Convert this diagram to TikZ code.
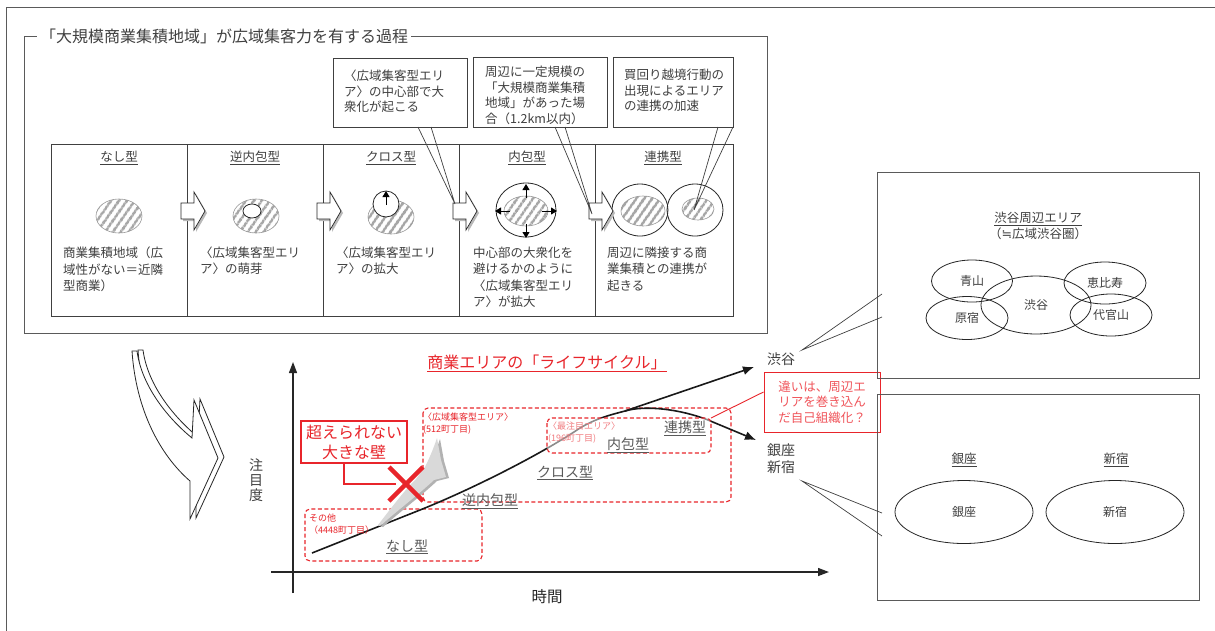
\documentclass[tikz,border=0pt]{standalone}
\usepackage{fontspec}
\setmainfont{Noto Sans CJK JP}
\newfontfamily\djv{DejaVu Sans}
\usetikzlibrary{arrows.meta,patterns.meta,shapes.geometric,calc}
\definecolor{tgray}{HTML}{404040}
\definecolor{lgray}{HTML}{595959}
\definecolor{fgray}{HTML}{5A5A5A}
\definecolor{myred}{HTML}{E8252B}
\definecolor{pinkred}{HTML}{F0545A}
\begin{document}
\begin{tikzpicture}[x=1pt,y=-1pt,
  frame/.style={draw=fgray,line width=0.9pt},
  boxline/.style={draw=tgray,line width=0.8pt},
  callout/.style={draw=tgray,line width=0.7pt},
  txt/.style={text=tgray,inner sep=0pt,align=left,font=\fontsize{12.5}{16.2}\selectfont},
  ctxt/.style={text=tgray,inner sep=0pt,align=left,font=\fontsize{12.5}{15.6}\selectfont},
  ttl/.style={text=tgray,inner sep=0pt,font=\fontsize{12.5}{15}\selectfont},
  hatch/.style={draw=gray!80,line width=0.6pt,pattern={Lines[angle=55,distance=6.5pt,line width=3pt]},pattern color=gray!70},
  wellipse/.style={draw=black!85,line width=0.8pt,fill=white},
  oellipse/.style={draw=black!85,line width=0.8pt},
  smallarrow/.style={draw=black,line width=0.9pt,-{Triangle[length=6pt,width=7pt]}},
  reddash/.style={draw=myred,line width=1.1pt,dash pattern=on 4pt off 2.5pt,rounded corners=5pt},
  redline/.style={draw=myred,line width=1.1pt},
  smallred/.style={text=myred,inner sep=0pt,align=left,font=\fontsize{9}{12}\selectfont},
  stagelbl/.style={text=lgray,inner sep=0pt,font=\fontsize{14}{16}\selectfont},
  curve/.style={draw=black!90,line width=1.6pt},
  axis/.style={draw=black!85,line width=1.3pt,-{Triangle[length=11pt,width=8pt]}},
  lbl/.style={text=tgray,inner sep=0pt,font=\fontsize{14}{17}\selectfont,align=left},
  area/.style={ellipse,draw=black!85,line width=0.8pt,inner sep=0pt,text=tgray,font=\fontsize{12}{14}\selectfont},
]
\useasboundingbox (0,0) rectangle (1215,630);
\fill[white] (0,0) rectangle (1215,630);

% outer frame
\draw[draw=fgray,line width=1pt] (1216,7) -- (6,7) -- (6,631);

% ================= top panel =================
\draw[frame] (24,36) rectangle (767,333);
\node[anchor=west,fill=white,inner xsep=3pt,inner ysep=1pt,text=tgray,font=\fontsize{16}{18}\selectfont] (title) at (37,36) {「大規模商業集積地域」が広域集客力を有する過程};

% stage boxes
\draw[boxline] (51,144) rectangle (733,316);
\foreach \x in {187,323,459,595} \draw[boxline] (\x,144) -- (\x,316);

% stage titles
\node[ttl] (t1) at (119,158) {\underline{なし型}};
\node[ttl] (t2) at (255,158) {\underline{逆内包型}};
\node[ttl] (t3) at (391,158) {\underline{クロス型}};
\node[ttl] (t4) at (527,158) {\underline{内包型}};
\node[ttl] (t5) at (663,158) {\underline{連携型}};

% stage 1
\draw[hatch] (119,216) ellipse [x radius=23pt, y radius=17pt];
% stage 2
\draw[hatch] (256,216) ellipse [x radius=23pt, y radius=17pt];
\draw[wellipse] (252,211) ellipse [x radius=9pt, y radius=7pt];
% stage 3
\draw[hatch] (391,217) ellipse [x radius=23pt, y radius=17pt];
\draw[wellipse] (386,204) circle [radius=13pt];
\draw[smallarrow] (386,205) -- (386,191);
% stage 4
\draw[wellipse] (526,210) ellipse [x radius=30pt, y radius=27pt];
\draw[hatch] (526,211) ellipse [x radius=22pt, y radius=15pt];
\draw[smallarrow] (526,198) -- (526,184);
\draw[smallarrow] (526,224) -- (526,238);
\draw[smallarrow] (510,211) -- (495,211);
\draw[smallarrow] (542,211) -- (557,211);
% stage 5
\draw[oellipse] (640,210) ellipse [x radius=28pt, y radius=26pt];
\draw[oellipse] (695,210) ellipse [x radius=28pt, y radius=26pt];
\draw[hatch] (643,211) ellipse [x radius=22pt, y radius=15pt];
\draw[hatch] (698,209) ellipse [x radius=16pt, y radius=11pt];

% block arrows between stages
\foreach \x in {187,323,459,595}{
  \fill[gray!55,shift={(\x+2,213)}] (-6,-8) -- (7,-8) -- (7,-19) -- (18,0) -- (7,19) -- (7,8) -- (-6,8) -- cycle;
  \draw[fill=white,draw=black!85,line width=0.7pt,shift={(\x,211)}] (-6,-8) -- (7,-8) -- (7,-19) -- (18,0) -- (7,19) -- (7,8) -- (-6,8) -- cycle;
}

% descriptions
\node[txt,anchor=north west] (d1) at (63,247) {商業集積地域（広\\域性がない＝近隣\\型商業）};
\node[txt,anchor=north west] (d2) at (200,247) {〈広域集客型エリ\\ア〉の萌芽};
\node[txt,anchor=north west] (d3) at (336,247) {〈広域集客型エリ\\ア〉の拡大};
\node[txt,anchor=north west] (d4) at (473,247) {中心部の大衆化を\\避けるかのように\\〈広域集客型エリ\\ア〉が拡大};
\node[txt,anchor=north west] (d5) at (607,247) {周辺に隣接する商\\業集積との連携が\\起きる};

% callout boxes
\draw[callout,fill=white] (333,58) rectangle (467,127);
\node[ctxt,anchor=north west] (c1) at (344,70) {〈広域集客型エリ\\ア〉の中心部で大\\衆化が起こる};
\draw[callout,fill=white] (473,57) rectangle (607,127);
\node[ctxt,anchor=north west] (c2) at (485,66) {周辺に一定規模の\\「大規模商業集積\\地域」があった場\\合（1.2km以内）};
\draw[callout,fill=white] (613,57) rectangle (733,127);
\node[ctxt,anchor=north west] (c3) at (624,69) {買回り越境行動の\\出現によるエリア\\の連携の加速};

\coordinate (p1) at (455,204);
\coordinate (p2) at (592,214);
\coordinate (p3) at (694,210);
\draw[callout] (418,127) -- (p1) -- (431,127);
\draw[callout] (555,127) -- (p2) -- (565,127);
\draw[callout] (718,127) -- (p3) -- (733,127);

% ================= big curved arrow =================
\draw[fill=white,draw=black!85,line width=0.8pt,shift={(6,-1)}]
  (132,351) .. controls (136,410) and (160,455) .. (190,481) -- (190,519) -- (218,458) -- (194,400) -- (192,438) .. controls (170,420) and (142,388) .. (137,351) -- cycle;
\draw[fill=white,draw=black!85,line width=0.8pt]
  (132,351) .. controls (136,410) and (160,455) .. (190,481) -- (190,519) -- (218,458) -- (194,400) -- (192,438) .. controls (170,420) and (142,388) .. (137,351) -- cycle;

% ================= chart =================
\draw[axis] (293,593) -- (293,362);
\draw[axis] (271,572) -- (829,572);
\node[text=tgray,inner sep=0pt,align=center,font=\fontsize{14}{15}\selectfont] (yl) at (256,480) {注\\目\\度};
\node[text=black!85,inner sep=0pt,font=\fontsize{15.5}{17}\selectfont] (xl) at (547,597) {時間};

\node[text=myred,inner sep=0pt,font=\fontsize{16}{18}\selectfont] (lct) at (547,363) {\underline{商業エリアの「ライフサイクル」}};

% dashed boxes
\draw[reddash] (423,408) rectangle (731,502);
\draw[reddash] (305,509) rectangle (482,561);

% life cycle curve
\draw[curve] (312,553) -- (420,510) .. controls (470,490) and (540,455) .. (580,428) .. controls (597,418) and (610,415) .. (625,411);
\coordinate (br) at (625,411);
\draw[curve,-{Latex[length=11pt,width=9pt]}] (br) -- (754,367);
\draw[curve,-{Latex[length=11pt,width=9pt]}] (br) .. controls (645,405) and (680,409) .. (708,420) -- (756,440);

% most-noted area box (semi-transparent)
\draw[reddash,fill=white,fill opacity=0.5] (547,418) rectangle (711,453);
\coordinate (cC) at (711,418);

% small red labels
\node[smallred,anchor=north west] (la) at (309,514) {その他\\（4448町丁目）};
\node[smallred,anchor=north west] (lb) at (423,413) {〈広域集客型エリア〉\\(512町丁目)};
\node[smallred,anchor=north west,text=myred!60] (lcc) at (548,422) {〈最注目エリア〉\\(196町丁目)};

% stage labels on chart
\node[stagelbl] (s1) at (407,547) {\underline{なし型}};
\node[stagelbl] (s2) at (490,501) {\underline{逆内包型}};
\node[stagelbl] (s3) at (565,473) {\underline{クロス型}};
\node[stagelbl] (s4) at (628,445) {\underline{内包型}};
\node[stagelbl] (s5) at (685,428) {\underline{連携型}};

% gray arrow
\fill[gray!60,shift={(3,1)}] (378,525) .. controls (392,507) and (404,491) .. (416,479) -- (425,467) .. controls (430,457) and (434,447) .. (437,438) -- (441,460) -- (446,477) -- (434,480) .. controls (418,495) and (398,510) .. (380,526) -- cycle;
\fill[gray!30] (378,525) .. controls (392,507) and (404,491) .. (416,479) -- (425,467) .. controls (430,457) and (434,447) .. (437,438) -- (441,460) -- (446,477) -- (434,480) .. controls (418,495) and (398,510) .. (380,526) -- cycle;

% wall box
\node[draw=myred,line width=1.1pt,fill=white,text=myred,align=center,inner sep=0pt,minimum width=106pt,minimum height=42pt,font=\fontsize{16}{20}\selectfont] (wall) at (354,442) {超えられない\\大きな壁};
\coordinate (wx) at (396,484);
\draw[redline] ($(wall.south)+(-10,0)$) |- (wx);

% red X
\draw[myred,line width=4.5pt] (389,467) -- (423,501);
\draw[myred,line width=4.5pt] (389,501) -- (423,467);

% red question callout
\node[draw=myred,line width=1pt,fill=white,text=pinkred,align=center,inner sep=0pt,minimum width=116pt,minimum height=60pt,font=\fontsize{12.5}{15.6}\selectfont] (diff) at (822,402) {違いは、周辺エ\\リアを巻き込ん\\だ自己組織化？};
\draw[myred,line width=0.9pt] ($(diff.west)+(0,-10)$) -- (cC);

% city labels
\node[lbl] (lsh) at (781,359) {渋谷};
\node[lbl] (lgs) at (781,459) {銀座\\新宿};

% ================= right panels =================
\draw[frame] (877,172) rectangle (1199,378);
\draw[frame] (877,394) rectangle (1199,600);

\node[ttl] (r1t) at (1038,219) {\underline{渋谷周辺エリア}};
\node[ttl] (r1s) at (1038,234) {（{\djv\fontsize{12.5}{15}\selectfont ≒}広域渋谷圏）};
\node[area,minimum width=81pt,minimum height=42pt] (aoyama) at (972,281) {青山};
\node[area,minimum width=82pt,minimum height=43pt] (harajuku) at (967,318) {原宿};
\node[area,minimum width=110pt,minimum height=58pt] (shibuya) at (1036,305) {渋谷};
\node[area,minimum width=82pt,minimum height=42pt] (ebisu) at (1105,283) {恵比寿};
\node[area,minimum width=82pt,minimum height=42pt] (daikan) at (1111,315) {代官山};

\node[ttl] (r2a) at (964,460) {\underline{銀座}};
\node[ttl] (r2b) at (1116,460) {\underline{新宿}};
\node[area,minimum width=138pt,minimum height=63pt] (ginza) at (964,512) {銀座};
\node[area,minimum width=138pt,minimum height=63pt] (shinjuku) at (1115,512) {新宿};

\coordinate (tipS) at (802,350);
\coordinate (tipG) at (802,481);
\draw[callout] (882,294) -- (tipS) -- (882,317);
\draw[callout] (882,513) -- (tipG) -- (882,536);
\end{tikzpicture}
\end{document}
